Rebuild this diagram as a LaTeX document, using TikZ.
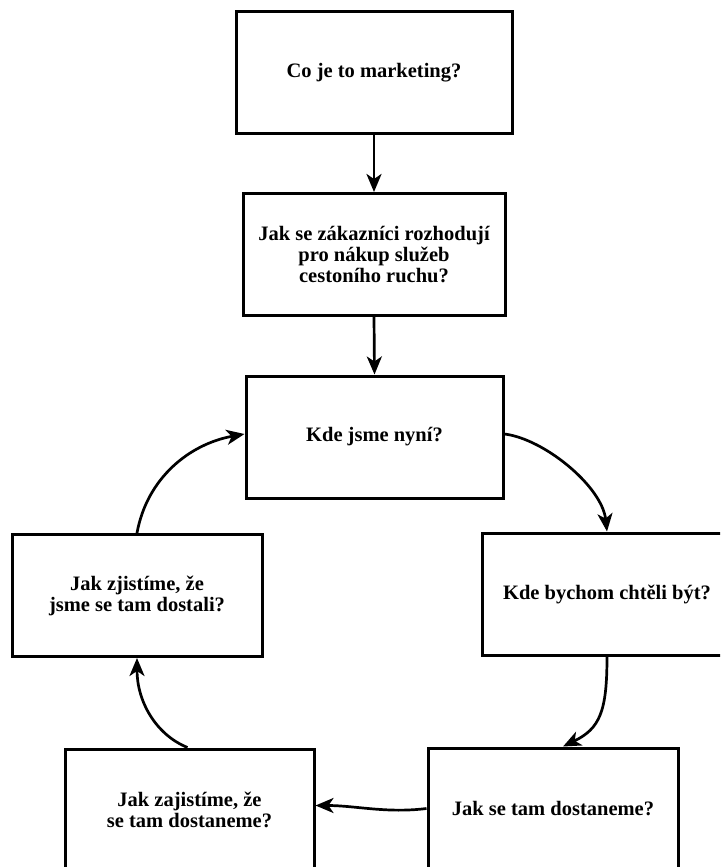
\documentclass[tikz,border=0pt]{standalone}
\usepackage{fontspec}
\setmainfont{Liberation Serif}
\usetikzlibrary{arrows.meta}
\tikzset{
  qbox/.style={draw=black, line width=3pt, fill=white, minimum width=#1, minimum height=122pt,
    align=center, inner sep=0pt, font=\fontsize{20.5}{21}\selectfont\bfseries},
  conn/.style={line width=2.7pt, -{Stealth[length=18pt,width=15pt,inset=5pt]}}
}
\begin{document}
\begin{tikzpicture}[x=1pt,y=-1pt]
\useasboundingbox (0,0) rectangle (720,867);
\clip (0,0) rectangle (720,867);
\fill[white] (0,0) rectangle (720,867);
\node[qbox=276pt] (k1) at (374,72.5) {Co je to marketing?};
\node[qbox=262pt] (k2) at (374,254.5) {Jak se zákazníci rozhodují\\pro nákup služeb\\cestoního ruchu?};
\node[qbox=257pt] (k3) at (374.5,437) {Kde jsme nyní?};
\node[qbox=250pt] (k4) at (607,594) {Kde bychom chtěli být?};
\node[qbox=250pt, minimum height=121pt] (k5) at (553,808.5) {Jak se tam dostaneme?};
\node[qbox=249pt, minimum height=121pt] (k6) at (189.5,809.5) {Jak zajistíme, že\\se tam dostaneme?};
\node[qbox=250pt] (k7) at (137,595.5) {Jak zjistíme, že\\jsme se tam dostali?};
\draw[conn] (k1.south) -- (k2.north);
\draw[conn] (k2.south) -- (k3.north);
\draw[conn] ([yshift=3]k3.east) .. controls +(40,5) and +(-5,-45) .. (k4.north);
\draw[conn] (k4.south) .. controls +(0,55) and +(37,-18) .. ([xshift=10]k5.north);
\draw[conn] (k5.west) .. controls +(-40,5) and +(40,0) .. ([yshift=4]k6.east);
\draw[conn] ([xshift=-2]k6.north) .. controls +(-32,-13) and +(0,43) .. (k7.south);
\draw[conn] (k7.north) .. controls +(10,-55) and +(-55,10) .. ([yshift=3]k3.west);
\end{tikzpicture}
\end{document}
